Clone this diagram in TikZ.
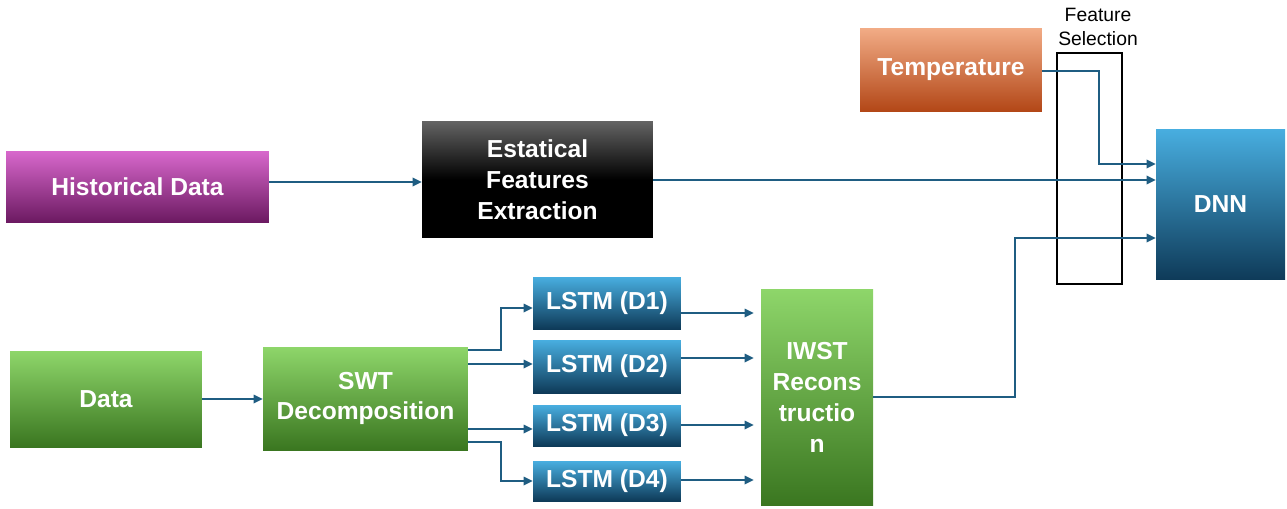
\documentclass[tikz,border=0pt]{standalone}
\usepackage{fontspec}
\setsansfont{Liberation Sans}
\usepackage{tikz}
\usetikzlibrary{arrows.meta,positioning}
\usepackage{xcolor}

\definecolor{linkblue}{RGB}{31,93,130}
\definecolor{magtop}{RGB}{216,104,204}
\definecolor{magbot}{RGB}{108,26,98}
\definecolor{grytop}{RGB}{100,100,100}
\definecolor{grybot}{RGB}{0,0,0}
\definecolor{grntop}{RGB}{142,214,106}
\definecolor{grnbot}{RGB}{58,118,32}
\definecolor{blutop}{RGB}{72,174,224}
\definecolor{blubot}{RGB}{14,58,88}
\definecolor{orgtop}{RGB}{242,172,134}
\definecolor{orgbot}{RGB}{178,70,22}

\begin{document}
\begin{tikzpicture}[
  x=0.02cm, y=-0.02cm,
  block/.style={inner sep=2pt, align=center, text=white,
    font=\sffamily\bfseries\fontsize{14}{17.5}\selectfont},
  magblk/.style={block, top color=magtop, bottom color=magbot},
  gryblk/.style={block, top color=grytop, bottom color=grybot, middle color=grybot},
  grnblk/.style={block, top color=grntop, bottom color=grnbot},
  blublk/.style={block, top color=blutop, bottom color=blubot},
  orgblk/.style={block, top color=orgtop, bottom color=orgbot},
  lstm/.style={blublk, minimum width=2.96cm},
  link/.style={-{Triangle[length=1.8mm, width=1.7mm]}, line width=1pt, draw=linkblue}
]
  \useasboundingbox (0,0) rectangle (1287,508);

  % Blocks (pixel grid of the layout, y grows downward)
  \node[orgblk, minimum width=3.64cm, minimum height=1.68cm] (temp) at (951,70) {Temperature};
  \node[magblk, minimum width=5.26cm, minimum height=1.42cm] (hist) at (137.5,186.5) {Historical Data};
  \node[gryblk, minimum width=4.62cm, minimum height=2.34cm] (est) at (537.5,179.5) {Estatical\\Features\\Extraction};
  \node[blublk, minimum width=2.58cm, minimum height=3.02cm] (dnn) at (1220.5,204.5) {DNN};
  \node[grnblk, minimum width=3.84cm, minimum height=1.92cm] (data) at (106,399) {Data};
  \node[grnblk, minimum width=4.10cm, minimum height=2.06cm] (swt) at (365.5,398.5) {SWT\\Decomposition};
  \node[lstm, minimum height=1.04cm] (d1) at (607,303) {LSTM (D1)};
  \node[lstm, minimum height=1.06cm] (d2) at (607,366.5) {LSTM (D2)};
  \node[lstm, minimum height=0.82cm] (d3) at (607,425.5) {LSTM (D3)};
  \node[lstm, minimum height=0.80cm] (d4) at (607,481) {LSTM (D4)};
  \node[grnblk, minimum width=2.24cm, minimum height=4.34cm] (iwst) at (817,397.5) {IWST\\Recons\\tructio\\n};

  % Feature selection frame
  \node[draw=black, line width=1.2pt, minimum width=1.30cm, minimum height=4.62cm, inner sep=0pt] (fsel) at (1089.5,168.5) {};
  \node[font=\sffamily\fontsize{11}{13.6}\selectfont, align=center, above=0pt of fsel, xshift=0.17cm] (fsellbl) {Feature\\Selection};

  % Bends
  \coordinate (tbend) at (1099,164);
  \coordinate (ibend) at (1015,238);
  \coordinate (sbend) at (501,350);

  % Connectors
  \draw[link] (hist.east |- 0,182) -- (est.west |- 0,182);
  \draw[link] (est.east |- 0,180) -- (dnn.west |- 0,180);
  \draw[link] (temp.east |- 0,71) -| (tbend) -- (dnn.west |- tbend);
  \draw[link] (iwst.east |- 0,397) -| (ibend) -- (dnn.west |- ibend);
  \draw[link] (data.east |- 0,399) -- (swt.west |- 0,399);

  \draw[link] (swt.east |- sbend) -- (sbend) |- (d1.west |- 0,308);
  \draw[link] (swt.east |- 0,364) -- (d2.west |- 0,364);
  \draw[link] (swt.east |- 0,429) -- (d3.west |- 0,429);
  \draw[link] (swt.east |- 0,442) -- (sbend |- 0,442) |- (d4.west |- 0,481);

  \foreach \d/\y in {d1/313, d2/358, d3/425, d4/480}
    \draw[link, shorten >=1.4mm] (\d.east |- 0,\y) -- (iwst.west |- 0,\y);

\end{tikzpicture}
\end{document}
